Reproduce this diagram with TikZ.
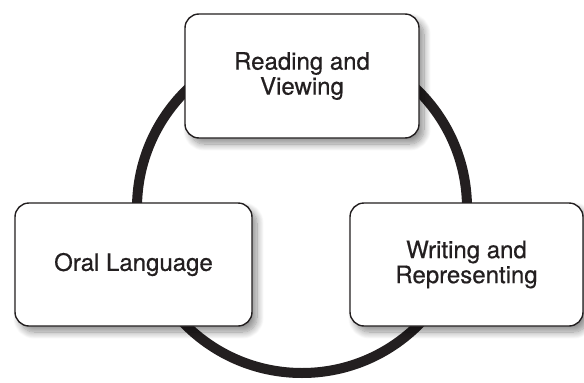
\documentclass[tikz,border=0pt]{standalone}
\usepackage{fontspec}
\setmainfont{TeX Gyre Heros}
\newfontfamily\boxfont{TeX Gyre Heros}[FakeBold=0.5]
\usetikzlibrary{shadows.blur}
\definecolor{ink}{HTML}{231F20}
\tikzset{
  cycbox/.style={draw=ink, line width=1.4pt, fill=white, rounded corners=14pt,
    align=center, text=ink, inner sep=0pt,
    font=\boxfont\fontsize{24}{25}\selectfont,
    blur shadow={shadow xshift=5pt, shadow yshift=-6pt, shadow blur steps=12, shadow blur radius=7pt, shadow opacity=45}},
  ring/.style={draw=ink, line width=10pt}
}
\begin{document}
\begin{tikzpicture}[x=1pt,y=-1pt]
\useasboundingbox (0,0) rectangle (584,383);
\draw[ring] (302,208) circle[radius=165pt];
\node[cycbox, minimum width=234pt, minimum height=124pt] (rv) at (302,76) {Reading and\\Viewing};
\node[cycbox, minimum width=237pt, minimum height=123pt] (ol) at (133.5,264.5) {Oral Language};
\node[cycbox, minimum width=233pt, minimum height=123pt] (wr) at (466.5,264.5) {Writing and\\Representing};
\end{tikzpicture}
\end{document}
